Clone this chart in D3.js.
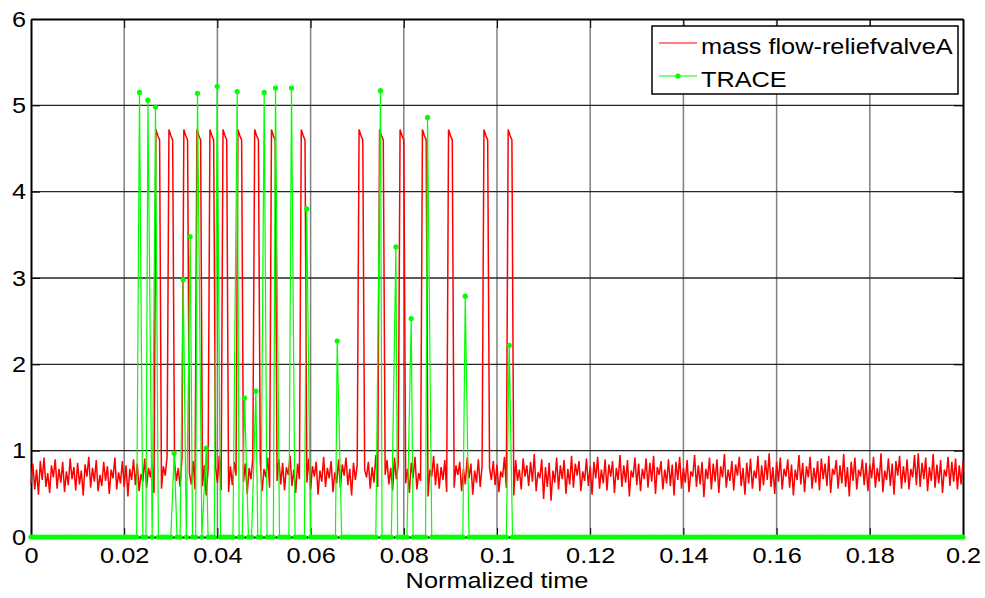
<!DOCTYPE html>
<html>
<head>
<meta charset="utf-8">
<script src="https://cdn.jsdelivr.net/npm/d3@7"></script>
<style>
  body { margin: 0; background: #fff; }
  svg { font-family: "Liberation Sans", Arial, sans-serif; }
</style>
</head>
<body>
<svg width="985" height="598"></svg>
<script>
// axis ticks
const xTicks = [0, 0.02, 0.04, 0.06, 0.08, 0.1, 0.12, 0.14, 0.16, 0.18, 0.2];
const yTicks = [0, 1, 2, 3, 4, 5, 6];

// mass flow-reliefvalveA : noise samples every 0.0004, plus the valve pulses
const reliefDt = 0.0004;
const reliefNoise = [
  0.62,0.85,0.55,0.78,0.49,0.88,0.66,0.92,0.58,0.74,0.51,0.83,0.69,0.90,0.56,0.79,0.63,0.87,0.52,0.76,0.60,0.91,0.67,0.81,0.54,
  0.86,0.61,0.77,0.48,0.84,0.70,0.93,0.57,0.80,0.64,0.89,0.53,0.72,0.59,0.87,0.65,0.82,0.50,0.78,0.68,0.92,0.55,0.75,0.62,0.88,
  0.58,0.83,0.47,0.79,0.66,0.90,0.60,0.85,0.53,0.73,0.64,0.91,0.57,0.80,0.69,0.86,0.51,0.77,0.63,0.89,0.56,0.82,0.71,0.93,0.60,
  0.76,0.52,0.87,0.65,0.80,0.58,0.92,0.67,0.84,0.50,0.74,0.61,0.88,0.55,0.79,0.70,0.90,0.59,0.83,0.48,0.78,0.66,0.86,0.57,0.81,
  0.63,0.94,0.54,0.77,0.68,0.89,0.52,0.82,0.60,0.87,0.71,0.93,0.56,0.75,0.64,0.85,0.50,0.80,0.67,0.91,0.58,0.84,0.62,0.88,0.53,
  0.79,0.69,0.92,0.57,0.83,0.46,0.76,0.65,0.90,0.61,0.86,0.54,0.81,0.72,0.94,0.59,0.78,0.51,0.85,0.67,0.89,0.56,0.74,0.63,0.91,
  0.55,0.82,0.70,0.87,0.49,0.77,0.64,0.93,0.58,0.80,0.68,0.88,0.52,0.75,0.62,0.90,0.57,0.84,0.71,0.92,0.60,0.79,0.48,0.86,0.66,
  0.83,0.59,0.91,0.53,0.78,0.69,0.87,0.56,0.81,0.63,0.95,0.58,0.76,0.50,0.85,0.72,0.89,0.61,0.80,0.54,0.92,0.67,0.84,0.57,0.77,
  0.88,0.62,0.79,0.51,0.86,0.68,0.93,0.55,0.74,0.65,0.90,0.59,0.82,0.47,0.78,0.70,0.94,0.60,0.85,0.56,0.81,0.66,0.89,0.52,0.76,
  0.64,0.91,0.57,0.83,0.72,0.87,0.53,0.79,0.61,0.92,0.68,0.85,0.49,0.77,0.63,0.90,0.58,0.82,0.71,0.95,0.55,0.80,0.66,0.88,0.60,
  0.84,0.52,0.76,0.69,0.93,0.57,0.86,0.62,0.80,0.48,0.89,0.65,0.78,0.55,0.91,0.70,0.83,0.59,0.87,0.64,0.96,0.53,0.75,0.68,0.90,
  0.44,0.81,0.58,0.86,0.42,0.77,0.63,0.92,0.55,0.83,0.67,0.89,0.50,0.79,0.61,0.94,0.57,0.85,0.71,0.88,0.53,0.76,0.65,0.91,0.59,
  0.82,0.49,0.87,0.68,0.93,0.56,0.78,0.62,0.90,0.54,0.84,0.70,0.88,0.51,0.80,0.66,0.95,0.58,0.83,0.63,0.89,0.47,0.77,0.69,0.92,
  0.60,0.85,0.53,0.79,0.67,0.91,0.57,0.86,0.64,0.94,0.50,0.81,0.72,0.88,0.55,0.78,0.62,0.90,0.59,0.84,0.48,0.87,0.66,0.93,0.56,
  0.80,0.63,0.89,0.52,0.76,0.70,0.95,0.58,0.83,0.61,0.87,0.46,0.79,0.67,0.92,0.55,0.85,0.64,0.90,0.51,0.82,0.69,0.96,0.57,0.78,
  0.65,0.88,0.54,0.84,0.71,0.93,0.59,0.80,0.49,0.86,0.62,0.91,0.56,0.77,0.68,0.94,0.53,0.83,0.60,0.89,0.66,0.97,0.58,0.81,0.50,
  0.87,0.64,0.92,0.55,0.79,0.70,0.90,0.57,0.84,0.48,0.78,0.66,0.95,0.61,0.86,0.52,0.82,0.69,0.93,0.56,0.80,0.63,0.88,0.54,0.91,
  0.67,0.85,0.59,0.94,0.51,0.79,0.72,0.89,0.56,0.83,0.62,0.96,0.58,0.81,0.47,0.87,0.65,0.92,0.55,0.78,0.70,0.90,0.60,0.86,0.53,
  0.84,0.68,0.93,0.57,0.80,0.64,0.97,0.52,0.77,0.66,0.91,0.59,0.85,0.49,0.88,0.71,0.94,0.56,0.82,0.63,0.90,0.55,0.79,0.69,0.95,
  0.60,0.97,0.58,0.86,0.67,0.92,0.53,0.81,0.65,0.96,0.57,0.84,0.62,0.89,0.51,0.78,0.70,0.93,0.59,0.87,0.64,0.91,0.55,0.83,0.61,
  0.88
];
const reliefPulseStart = [0.0269, 0.0297, 0.0327, 0.0357, 0.0385, 0.0412, 0.0443, 0.0479, 0.0516,
                          0.0580, 0.0706, 0.0747, 0.0790, 0.0842, 0.0895, 0.0973, 0.1024];
const reliefPulseLevels = [4.72, 4.65, 4.60];

// TRACE : samples every 0.2/300, zero except for these peaks
const traceDt = 0.2 / 300;
const tracePeakT = [0.02328, 0.02509, 0.02672, 0.03073, 0.03266, 0.03416, 0.03573, 0.03760, 0.03996,
                    0.04425, 0.04582, 0.04826, 0.05004, 0.05247, 0.05590, 0.05916, 0.06571, 0.07500,
                    0.07830, 0.08159, 0.08509, 0.09318, 0.10262];
const tracePeakV = [5.15, 5.06, 4.98, 0.97, 2.98, 3.48, 5.14, 1.03, 5.22,
                    5.16, 1.61, 1.69, 5.15, 5.20, 5.20, 3.80, 2.27, 5.17,
                    3.36, 2.53, 4.86, 2.79, 2.22];

const seriesNames = ["mass flow-reliefvalveA", "TRACE"];

// build the series
const relief = reliefNoise.map((v, i) => ({t: i * reliefDt, v: v}));
reliefPulseStart.forEach(t0 => {
    const i0 = Math.round(t0 / reliefDt);
    reliefPulseLevels.forEach((v, k) => { relief[i0 + k].v = v; });
});

const trace = d3.range(301).map(i => ({t: i * traceDt, v: 0}));
tracePeakT.forEach((t, k) => {
    trace[Math.round(t / traceDt)] = {t: t, v: tracePeakV[k]};
});

const margin = {left: 31, right: 22, top: 19, bottom: 61};
const width = 985, height = 598;
const fontSize = 22;
const stretch = 1.15;   // the original font runs wider than Arial

const x = d3.scaleLinear().domain([0, 0.2]).range([margin.left, width - margin.right]);
const y = d3.scaleLinear().domain([0, 6]).range([height - margin.bottom, margin.top]);

const svg = d3.select("svg");

// grid
svg.append("g")
   .selectAll("line")
   .data(xTicks.slice(1, -1))
   .join("line")
     .attr("x1", d => x(d)).attr("x2", d => x(d))
     .attr("y1", y(0)).attr("y2", y(6))
     .attr("stroke", "#808080")
     .attr("stroke-width", 1.5);

svg.append("g")
   .selectAll("line")
   .data(yTicks.slice(1, -1))
   .join("line")
     .attr("x1", x(0)).attr("x2", x(0.2))
     .attr("y1", d => y(d)).attr("y2", d => y(d))
     .attr("stroke", "#262626")
     .attr("stroke-width", 1.3);

// axes with inward ticks on all four sides
const fmtX = d => d === 0 ? "0" : String(+d.toFixed(2));
const tickLen = 9;

const gB = svg.append("g").attr("transform", `translate(0,${y(0)})`)
    .call(d3.axisBottom(x).tickValues(xTicks).tickFormat(fmtX).tickSizeInner(-tickLen).tickSizeOuter(0).tickPadding(tickLen + 1));
const gT = svg.append("g").attr("transform", `translate(0,${y(6)})`)
    .call(d3.axisTop(x).tickValues(xTicks).tickFormat("").tickSizeInner(-tickLen).tickSizeOuter(0));
const gL = svg.append("g").attr("transform", `translate(${x(0)},0)`)
    .call(d3.axisLeft(y).tickValues(yTicks).tickFormat(d3.format("d")).tickSizeInner(-tickLen).tickSizeOuter(0).tickPadding(tickLen + 5));
const gR = svg.append("g").attr("transform", `translate(${x(0.2)},0)`)
    .call(d3.axisRight(y).tickValues(yTicks).tickFormat("").tickSizeInner(-tickLen).tickSizeOuter(0));

[gB, gT, gL, gR].forEach(g => {
    g.select(".domain").attr("stroke", "#000").attr("stroke-width", 2);
    g.selectAll(".tick line").attr("stroke", "#000").attr("stroke-width", 1);
    g.selectAll("text").attr("font-size", fontSize).attr("fill", "#000")
     .attr("font-family", "'Liberation Sans', Arial, sans-serif");
});
gB.selectAll("text").attr("dy", "0.71em");
gL.selectAll("text").attr("x", -5);

// x label
svg.append("text")
   .attr("x", (x(0) + x(0.2)) / 2)
   .attr("y", 588)
   .attr("text-anchor", "middle")
   .attr("font-size", fontSize)
   .text("Normalized time");

// data
const line = d3.line().x(d => x(d.t)).y(d => y(d.v));

svg.append("path")
   .datum(relief)
   .attr("d", line)
   .attr("fill", "none")
   .attr("stroke", "#ff0000")
   .attr("stroke-width", 1.5);

svg.append("path")
   .datum(trace)
   .attr("d", line)
   .attr("fill", "none")
   .attr("stroke", "#00ff00")
   .attr("stroke-width", 1.2);

svg.append("g")
   .selectAll("circle")
   .data(trace)
   .join("circle")
     .attr("cx", d => x(d.t))
     .attr("cy", d => y(d.v))
     .attr("r", 2.6)
     .attr("fill", "#00ff00");

// legend
const legend = svg.append("g");
legend.append("rect")
      .attr("x", 652).attr("y", 26)
      .attr("width", 306).attr("height", 68)
      .attr("fill", "#fff")
      .attr("stroke", "#000")
      .attr("stroke-width", 1.5);

const legColors = ["#ff0000", "#00ff00"];
const legY = [43, 76];
seriesNames.forEach((name, i) => {
    legend.append("line")
          .attr("x1", 659).attr("x2", 697)
          .attr("y1", legY[i]).attr("y2", legY[i])
          .attr("stroke", legColors[i])
          .attr("stroke-width", 1.2);
    if (i === 1) {
        legend.append("circle")
              .attr("cx", 678).attr("cy", legY[i]).attr("r", 2.6)
              .attr("fill", legColors[i]);
    }
    legend.append("text")
          .attr("x", 701)
          .attr("y", legY[i] + 11)
          .attr("font-size", fontSize)
          .text(name);
});

// widen all texts a little to match the original lettering
svg.selectAll("text").each(function() {
    const len = this.getComputedTextLength();
    if (len > 0) {
        d3.select(this)
          .attr("textLength", len * stretch)
          .attr("lengthAdjust", "spacingAndGlyphs");
    }
});
</script>
</body>
</html>
